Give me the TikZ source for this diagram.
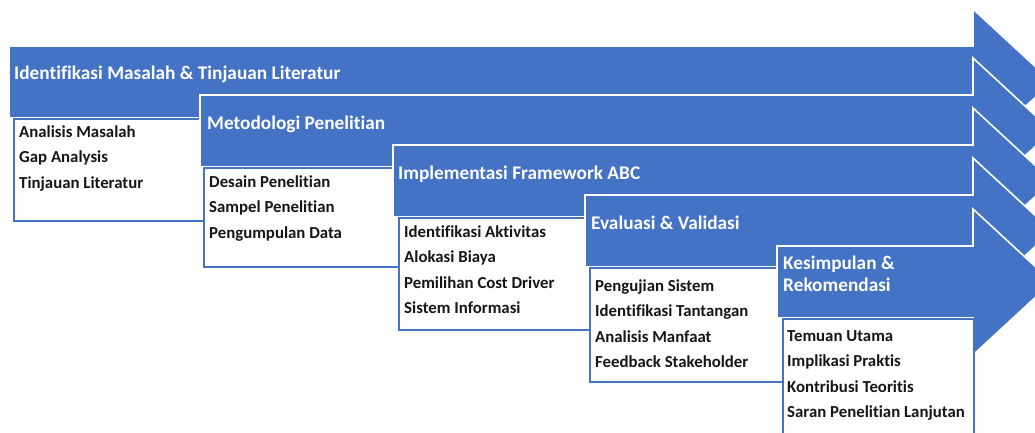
\documentclass[tikz,border=0pt]{standalone}
\usepackage{fontspec}
\setmainfont{Carlito}[Ligatures=NoCommon]
\usetikzlibrary{positioning}
\definecolor{abcblue}{RGB}{68,114,196}
\definecolor{listblack}{RGB}{22,22,22}

\tikzset{
  phase/.style={fill=abcblue, draw=white, line width=1.6pt},
  phasetitle/.style={anchor=base west, inner sep=0pt, align=left, text=white,
    font=\fontsize{19.3}{22}\selectfont\bfseries},
  itembox/.style={draw=abcblue, line width=1.8pt, fill=white, anchor=north west, inner sep=0pt},
  % multi-line nodes sit on the baseline of their last line
  itemlist/.style={anchor=base west, inner sep=0pt, align=left, text=listblack,
    font=\fontsize{16.8}{25.5}\selectfont\bfseries},
}

% arrow for one phase: #1 = left edge, #2 = top of the body
\newcommand{\phasearrow}[2]{%
  \filldraw[phase] (#1,#2) -- (973,#2) -- (973,#2-37) -- (1052,#2+36)
    -- (973,#2+109) -- (973,#2+72) -- (#1,#2+72) -- cycle;
}

\begin{document}
\begin{tikzpicture}[x=1pt, y=-1pt]
  \useasboundingbox (0,0) rectangle (1035,432);
  \clip (0,0) rectangle (1035,432);

  % phase 1
  \phasearrow{9}{46}
  \node[itembox, minimum width=191pt, minimum height=102pt] (box1) at (13,118) {};
  \node[phasetitle] (title1) at (14,79) {Identifikasi Masalah \& Tinjauan Literatur};
  \node[itemlist] (list1) at (19,188) {Analisis Masalah\\Gap Analysis\\Tinjauan Literatur};

  % phase 2
  \phasearrow{200}{95}
  \node[itembox, minimum width=197pt, minimum height=99pt] (box2) at (203,167) {};
  \node[phasetitle] (title2) at (207,129) {Metodologi Penelitian};
  \node[itemlist] (list2) at (209,238) {Desain Penelitian\\Sampel Penelitian\\Pengumpulan Data};

  % phase 3
  \phasearrow{393}{145}
  \node[itembox, minimum width=193pt, minimum height=112pt] (box3) at (398,217) {};
  \node[phasetitle] (title3) at (398,179) {Implementasi Framework ABC};
  \node[itemlist] (list3) at (404,313.5) {Identifikasi Aktivitas\\Alokasi Biaya\\Pemilihan Cost Driver\\Sistem Informasi};

  % phase 4
  \phasearrow{585}{195}
  \node[itembox, minimum width=195pt, minimum height=114pt] (box4) at (589,267) {};
  \node[phasetitle] (title4) at (591,229) {Evaluasi \& Validasi};
  \node[itemlist] (list4) at (595,367.5) {Pengujian Sistem\\Identifikasi Tantangan\\Analisis Manfaat\\Feedback Stakeholder};

  % phase 5
  \phasearrow{777}{246}
  \node[itembox, minimum width=191pt, minimum height=124pt] (box5) at (782,318) {};
  \node[phasetitle] (title5) at (783,291) {Kesimpulan \&\\Rekomendasi};
  \node[itemlist] (list5) at (787,417.5) {Temuan Utama\\Implikasi Praktis\\Kontribusi Teoritis\\Saran Penelitian Lanjutan};
\end{tikzpicture}
\end{document}
